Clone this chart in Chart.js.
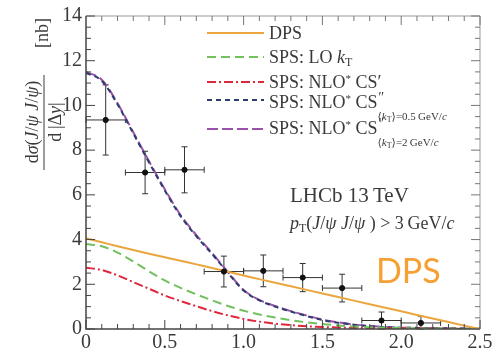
<!DOCTYPE html>
<html>
<head>
<meta charset="utf-8">
<script src="https://cdn.jsdelivr.net/npm/chart.js@4.4.1/dist/chart.umd.min.js"></script>
<style>
  body { margin: 0; background: #fff; }
  #wrap { width: 502px; height: 352px; }
</style>
</head>
<body>
<div id="wrap"><canvas id="myChart" width="502" height="352"></canvas></div>
<script>
// |dy| grid for the theory curves
const curveX = [0, 0.1, 0.2, 0.3, 0.4, 0.5, 0.6, 0.7, 0.8, 0.9, 1.0, 1.1, 1.2, 1.3, 1.4, 1.5, 1.6, 1.7, 1.8, 1.9, 2.0, 2.1, 2.2, 2.3, 2.4, 2.5];
const dps = [4.06, 3.88, 3.70, 3.53, 3.37, 3.21, 3.05, 2.89, 2.73, 2.56, 2.39, 2.23, 2.07, 1.91, 1.75, 1.59, 1.43, 1.27, 1.11, 0.95, 0.79, 0.63, 0.47, 0.31, 0.15, 0.0];
const spsLoKt = [3.8, 3.7, 3.42, 3.02, 2.58, 2.17, 1.84, 1.55, 1.28, 1.03, 0.82, 0.65, 0.51, 0.39, 0.3, 0.22, 0.16, 0.11, 0.08, 0.06, 0.04, 0.03, 0.02, 0.02, 0.01, 0.01];
const spsNloCs1 = [2.74, 2.64, 2.4, 2.1, 1.8, 1.5, 1.25, 1.02, 0.8, 0.61, 0.45, 0.33, 0.24, 0.17, 0.12, 0.09, 0.07, 0.05, 0.04, 0.03, 0.03, 0.02, 0.02, 0.01, 0.01, 0.01];
const spsNloCs2a = [11.45, 11.1, 10.05, 8.75, 7.45, 6.2, 5.05, 4.15, 3.35, 2.52, 1.72, 1.28, 1.0, 0.78, 0.58, 0.4, 0.28, 0.19, 0.12, 0.08, 0.06, 0.05, 0.04, 0.03, 0.02, 0.01];
const spsNloCs2b = [11.5, 11.15, 10.1, 8.8, 7.5, 6.25, 5.1, 4.2, 3.4, 2.55, 1.75, 1.3, 1.03, 0.8, 0.6, 0.42, 0.3, 0.2, 0.13, 0.09, 0.06, 0.05, 0.04, 0.03, 0.02, 0.01];

// LHCb data points
const dataX = [0.125, 0.375, 0.625, 0.875, 1.125, 1.375, 1.625, 1.875, 2.125];
const dataY = [9.35, 7.0, 7.12, 2.57, 2.6, 2.3, 1.83, 0.38, 0.27];
const dataErrY = [1.57, 0.95, 1.03, 0.69, 0.71, 0.63, 0.62, 0.38, 0.3];
const dataErrX = [0.125, 0.125, 0.125, 0.125, 0.125, 0.125, 0.125, 0.125, 0.125];

const xTicks = [0, 0.5, 1, 1.5, 2, 2.5];
const yTicks = [0, 2, 4, 6, 8, 10, 12, 14];

const serif = '"Liberation Serif", "DejaVu Serif", serif';
const textColor = '#3a3a3a';

function pts(ys) {
    return curveX.map((x, i) => ({ x: x, y: ys[i] }));
}

// draw a run of [text, style, size, dy] pieces, left to right
function drawRuns(ctx, x, y, runs) {
    let cx = x;
    runs.forEach(r => {
        const size = r[2] || 18;
        ctx.font = (r[1] || '') + ' ' + size + 'px ' + serif;
        ctx.fillText(r[0], cx, y + (r[3] || 0));
        cx += ctx.measureText(r[0]).width;
    });
    return cx;
}

const decorations = {
    id: 'decorations',
    beforeDatasetsDraw(chart) {
        const ctx = chart.ctx;
        const xs = chart.scales.x, ys = chart.scales.y;
        ctx.save();
        ctx.strokeStyle = '#333';
        ctx.lineWidth = 1;
        dataX.forEach((x, i) => {
            const px = xs.getPixelForValue(x);
            const py = ys.getPixelForValue(dataY[i]);
            const x0 = xs.getPixelForValue(x - dataErrX[i]);
            const x1 = xs.getPixelForValue(x + dataErrX[i]);
            const y0 = ys.getPixelForValue(Math.max(0, dataY[i] - dataErrY[i]));
            const y1 = ys.getPixelForValue(dataY[i] + dataErrY[i]);
            ctx.beginPath();
            ctx.moveTo(x0, py); ctx.lineTo(x1, py);
            ctx.moveTo(x0, py - 3); ctx.lineTo(x0, py + 3);
            ctx.moveTo(x1, py - 3); ctx.lineTo(x1, py + 3);
            ctx.moveTo(px, y0); ctx.lineTo(px, y1);
            ctx.moveTo(px - 3, y0); ctx.lineTo(px + 3, y0);
            ctx.moveTo(px - 3, y1); ctx.lineTo(px + 3, y1);
            ctx.stroke();
        });
        ctx.restore();
    },
    afterDraw(chart) {
        const ctx = chart.ctx;
        const a = chart.chartArea;
        const xs = chart.scales.x, ys = chart.scales.y;
        ctx.save();

        // frame
        ctx.strokeStyle = '#999';
        ctx.lineWidth = 1;
        ctx.beginPath();
        ctx.moveTo(a.left, a.top); ctx.lineTo(a.right, a.top); ctx.lineTo(a.right, a.bottom);
        ctx.stroke();
        ctx.strokeStyle = '#444';
        ctx.lineWidth = 1.5;
        ctx.beginPath();
        ctx.moveTo(a.left, a.top); ctx.lineTo(a.left, a.bottom); ctx.lineTo(a.right, a.bottom);
        ctx.stroke();

        // inward ticks
        ctx.lineWidth = 1;
        for (let k = 0; k <= 25; k++) {
            const v = k / 10;
            const px = xs.getPixelForValue(v);
            const len = k % 5 === 0 ? 9 : 5;
            ctx.strokeStyle = '#444';
            ctx.beginPath(); ctx.moveTo(px, a.bottom); ctx.lineTo(px, a.bottom - len); ctx.stroke();
            ctx.strokeStyle = '#777';
            ctx.beginPath(); ctx.moveTo(px, a.top); ctx.lineTo(px, a.top + len); ctx.stroke();
        }
        for (let k = 0; k <= 28; k++) {
            const v = k / 2;
            const py = ys.getPixelForValue(v);
            const len = k % 4 === 0 ? 9 : 5;
            ctx.strokeStyle = '#444';
            ctx.beginPath(); ctx.moveTo(a.left, py); ctx.lineTo(a.left + len, py); ctx.stroke();
            ctx.strokeStyle = '#777';
            ctx.beginPath(); ctx.moveTo(a.right, py); ctx.lineTo(a.right - len, py); ctx.stroke();
        }

        // legend
        const legend = [
            { ds: 1, y: 33 },
            { ds: 2, y: 57 },
            { ds: 3, y: 82 },
            { ds: 4, y: 100 },
            { ds: 5, y: 129 }
        ];
        legend.forEach(item => {
            const d = chart.data.datasets[item.ds];
            ctx.strokeStyle = d.borderColor;
            ctx.lineWidth = d.borderWidth;
            ctx.setLineDash(d.borderDash || []);
            ctx.beginPath(); ctx.moveTo(207, item.y); ctx.lineTo(264, item.y); ctx.stroke();
        });
        ctx.setLineDash([]);
        ctx.fillStyle = textColor;
        ctx.textBaseline = 'alphabetic';
        ctx.textAlign = 'left';
        drawRuns(ctx, 269, 39, [['DPS']]);
        drawRuns(ctx, 269, 63, [['SPS: LO '], ['k', 'italic'], ['T', '', 12, 3]]);
        drawRuns(ctx, 269, 88, [['SPS: NLO'], ['*', '', 11, -6], [' CS'], ['\u2032', '', 18]]);
        let e = drawRuns(ctx, 269, 108, [['SPS: NLO'], ['*', '', 11, -6], [' CS']]);
        drawRuns(ctx, e, 102, [['\u2033', 'italic', 14]]);
        drawRuns(ctx, e, 120, [['\u27E8', '', 11], ['k', 'italic', 11], ['T', '', 8, 2], ['\u27E9=0.5\u2009GeV/', '', 11], ['c', 'italic', 11]]);
        e = drawRuns(ctx, 269, 134, [['SPS: NLO'], ['*', '', 11, -6], [' CS']]);
        drawRuns(ctx, e, 128, [['\u2033', 'italic', 14]]);
        drawRuns(ctx, e, 146, [['\u27E8', '', 11], ['k', 'italic', 11], ['T', '', 8, 2], ['\u27E9=2\u2009GeV/', '', 11], ['c', 'italic', 11]]);

        // experiment labels
        drawRuns(ctx, 290, 202, [['LHCb 13\u2009TeV', '', 21]]);
        drawRuns(ctx, 290, 229, [['p', 'italic', 18], ['T', '', 12, 3], ['(', '', 18], ['J', 'italic', 18], ['/', '', 18], ['\u03C8', 'italic', 18],
            [' ', '', 18], ['J', 'italic', 18], ['/', '', 18], ['\u03C8', 'italic', 18], [' ) > 3\u2009GeV/', '', 18], ['c', 'italic', 18]]);

        // big DPS tag
        ctx.fillStyle = '#f5a034';
        ctx.font = '34px Lato, "Open Sans", sans-serif';
        ctx.fillText('DPS', 376, 283);

        // y axis title (rotated fraction)
        ctx.fillStyle = textColor;
        ctx.translate(44, 122);
        ctx.rotate(-Math.PI / 2);
        ctx.font = '18px ' + serif;
        const num = [['d'], ['\u03C3', 'italic'], ['('], ['J', 'italic'], ['/'], ['\u03C8', 'italic'], [' '], ['J', 'italic'], ['/'], ['\u03C8', 'italic'], [')']];
        const den = [['d\u2009|\u0394'], ['y', 'italic'], ['|']];
        const widthOf = runs => runs.reduce((w, r) => {
            ctx.font = (r[1] || '') + ' ' + (r[2] || 18) + 'px ' + serif;
            return w + ctx.measureText(r[0]).width;
        }, 0);
        drawRuns(ctx, -widthOf(num) / 2, -6, num);
        drawRuns(ctx, -widthOf(den) / 2, 17, den);
        ctx.strokeStyle = textColor;
        ctx.lineWidth = 1;
        ctx.beginPath(); ctx.moveTo(-48, 0); ctx.lineTo(47, 0); ctx.stroke();
        ctx.font = '18px ' + serif;
        const nbw = ctx.measureText('[nb]').width;
        ctx.fillText('[nb]', 89 - nbw / 2, 4);

        ctx.restore();
    }
};

const ctx = document.getElementById('myChart').getContext('2d');
const myChart = new Chart(ctx, {
    type: 'line',
    data: {
        datasets: [
            {
                label: 'LHCb data',
                data: dataX.map((x, i) => ({ x: x, y: dataY[i] })),
                showLine: false,
                pointRadius: 2.6,
                pointBackgroundColor: '#111',
                pointBorderColor: '#111',
                borderColor: '#111'
            },
            {
                label: 'DPS',
                data: pts(dps),
                borderColor: '#eaa63c',
                borderWidth: 2,
                pointRadius: 0,
                cubicInterpolationMode: 'monotone'
            },
            {
                label: 'SPS: LO kT',
                data: pts(spsLoKt),
                borderColor: '#72c05e',
                borderWidth: 2,
                borderDash: [9, 5],
                pointRadius: 0,
                cubicInterpolationMode: 'monotone'
            },
            {
                label: "SPS: NLO* CS'",
                data: pts(spsNloCs1),
                borderColor: '#e0283c',
                borderWidth: 2,
                borderDash: [9, 3, 2, 3],
                pointRadius: 0,
                cubicInterpolationMode: 'monotone'
            },
            {
                label: "SPS: NLO* CS'' <kT>=0.5 GeV/c",
                data: pts(spsNloCs2a),
                borderColor: '#2c3d6e',
                borderWidth: 2,
                borderDash: [5, 4],
                pointRadius: 0,
                cubicInterpolationMode: 'monotone'
            },
            {
                label: "SPS: NLO* CS'' <kT>=2 GeV/c",
                data: pts(spsNloCs2b),
                borderColor: '#9a52a8',
                borderWidth: 2,
                borderDash: [11, 4],
                pointRadius: 0,
                cubicInterpolationMode: 'monotone'
            }
        ]
    },
    options: {
        responsive: false,
        animation: false,
        layout: { padding: { top: 15, right: 22, left: 0, bottom: 0 } },
        plugins: {
            legend: { display: false },
            tooltip: { enabled: false }
        },
        scales: {
            x: {
                type: 'linear',
                min: 0,
                max: 2.5,
                afterFit: s => { s.height = 23; },
                afterBuildTicks: s => { s.ticks = xTicks.map(v => ({ value: v })); },
                grid: { display: false, drawTicks: false },
                border: { display: false },
                ticks: { padding: 2, color: textColor, font: { family: serif, size: 20 } }
            },
            y: {
                type: 'linear',
                min: 0,
                max: 14,
                afterFit: s => { s.width = 86; },
                afterBuildTicks: s => { s.ticks = yTicks.map(v => ({ value: v })); },
                grid: { display: false, drawTicks: false },
                border: { display: false },
                ticks: { padding: 4, color: textColor, font: { family: serif, size: 20 } }
            }
        }
    },
    plugins: [decorations]
});
</script>
</body>
</html>
